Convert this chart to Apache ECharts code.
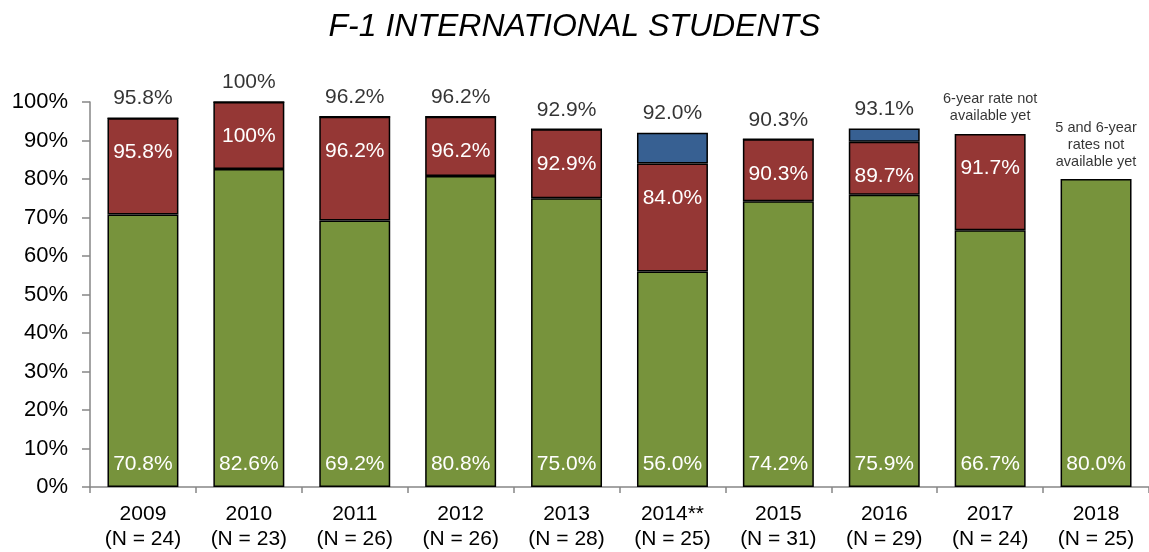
<!DOCTYPE html>
<html>
<head>
<meta charset="utf-8">
<script src="https://cdn.jsdelivr.net/npm/echarts@6/dist/echarts.min.js"></script>
<style>
  html, body { margin: 0; padding: 0; background: #fff; }
  #chart { width: 1149px; height: 552px; }
</style>
</head>
<body>
<div id="chart"></div>
<script>
// Cohort years and cohort sizes
const years = ['2009', '2010', '2011', '2012', '2013', '2014**', '2015', '2016', '2017', '2018'];
const cohortN = [24, 23, 26, 26, 28, 25, 31, 29, 24, 25];

// Cumulative graduation rates (%)
const fourYear = [70.8, 82.6, 69.2, 80.8, 75.0, 56.0, 74.2, 75.9, 66.7, 80.0];
const fiveYear = [95.8, 100, 96.2, 96.2, 92.9, 84.0, 90.3, 89.7, 91.7, null];
const sixYear  = [95.8, 100, 96.2, 96.2, 92.9, 92.0, 90.3, 93.1, null, null];

// Notes shown where later rates are not yet known
const notes = [null, null, null, null, null, null, null, null,
  '6-year rate not\navailable yet',
  '5 and 6-year\nrates not\navailable yet'];

const GREEN = '#77933C', RED = '#953735', BLUE = '#376092';
const FONT = '"Liberation Sans", Arial, sans-serif';

// Stacked segments are the increments between cumulative rates
const fifthYearGain = fiveYear.map((v, i) => v == null ? null : +(v - fourYear[i]).toFixed(1));
const sixthYearGain = sixYear.map((v, i) => v == null ? null : +(v - fiveYear[i]).toFixed(1));
const stackTop = years.map((_, i) => sixYear[i] ?? fiveYear[i] ?? fourYear[i]);

const fmt = v => (v === 100 ? '100' : v.toFixed(1)) + '%';

const barCommon = {
  type: 'bar',
  stack: 'rate',
  barWidth: '67%',
  itemStyle: { borderColor: '#000', borderWidth: 1.5 },
  silent: true
};

const chart = echarts.init(document.getElementById('chart'), null, { renderer: 'canvas' });
chart.setOption({
  animation: false,
  title: {
    text: 'F-1 INTERNATIONAL STUDENTS',
    left: 'center',
    top: 6,
    textStyle: { fontFamily: FONT, fontSize: 32, fontStyle: 'italic', fontWeight: 'normal', color: '#000' }
  },
  grid: { left: 90, top: 102, width: 1063, height: 385, containLabel: false },
  xAxis: {
    type: 'category',
    data: years,
    axisLine: { lineStyle: { color: '#868686', width: 1.5 } },
    axisTick: { show: true, length: 6, alignWithLabel: false, lineStyle: { color: '#868686', width: 1.5 } },
    axisLabel: {
      margin: 15,
      color: '#000',
      fontFamily: FONT,
      fontSize: 21,
      lineHeight: 25,
      formatter: (v, i) => v + '\n(N = ' + cohortN[i] + ')'
    }
  },
  yAxis: {
    type: 'value',
    min: 0,
    max: 100,
    interval: 10,
    splitLine: { show: false },
    axisLine: { show: true, lineStyle: { color: '#868686', width: 1.5 } },
    axisTick: { show: true, inside: false, length: 8, lineStyle: { color: '#868686', width: 1.5 } },
    axisLabel: {
      margin: 22,
      color: '#000',
      fontFamily: FONT,
      fontSize: 22,
      formatter: v => v + '%'
    }
  },
  series: [
    Object.assign({}, barCommon, {
      name: '4-year',
      data: fourYear,
      itemStyle: Object.assign({}, barCommon.itemStyle, { color: GREEN }),
      label: {
        show: true, position: 'insideBottom', distance: 12,
        color: '#fff', fontFamily: FONT, fontSize: 21,
        formatter: p => fmt(fourYear[p.dataIndex])
      }
    }),
    Object.assign({}, barCommon, {
      name: '5-year',
      data: fifthYearGain,
      itemStyle: Object.assign({}, barCommon.itemStyle, { color: RED }),
      label: {
        show: true, position: 'insideTop', distance: 24,
        color: '#fff', fontFamily: FONT, fontSize: 21,
        formatter: p => fiveYear[p.dataIndex] == null ? '' : fmt(fiveYear[p.dataIndex])
      }
    }),
    Object.assign({}, barCommon, {
      name: '6-year',
      data: sixthYearGain,
      itemStyle: Object.assign({}, barCommon.itemStyle, { color: BLUE })
    }),
    {
      // Labels above each stack: final rate, or a note when it is not yet known
      type: 'scatter',
      data: stackTop,
      symbolSize: 0,
      silent: true,
      z: 5,
      label: {
        show: true,
        position: 'top',
        distance: 9,
        fontFamily: FONT,
        color: '#000',
        formatter: p => {
          const i = p.dataIndex;
          if (notes[i]) return '{note|' + notes[i].split('\n').join('}\n{note|') + '}';
          return '{val|' + fmt(sixYear[i]) + '}';
        },
        rich: {
          val: { fontFamily: FONT, fontSize: 21, color: '#000' },
          note: { fontFamily: FONT, fontSize: 14.5, lineHeight: 17, color: '#000', align: 'center' }
        }
      }
    }
  ]
});
</script>
</body>
</html>
